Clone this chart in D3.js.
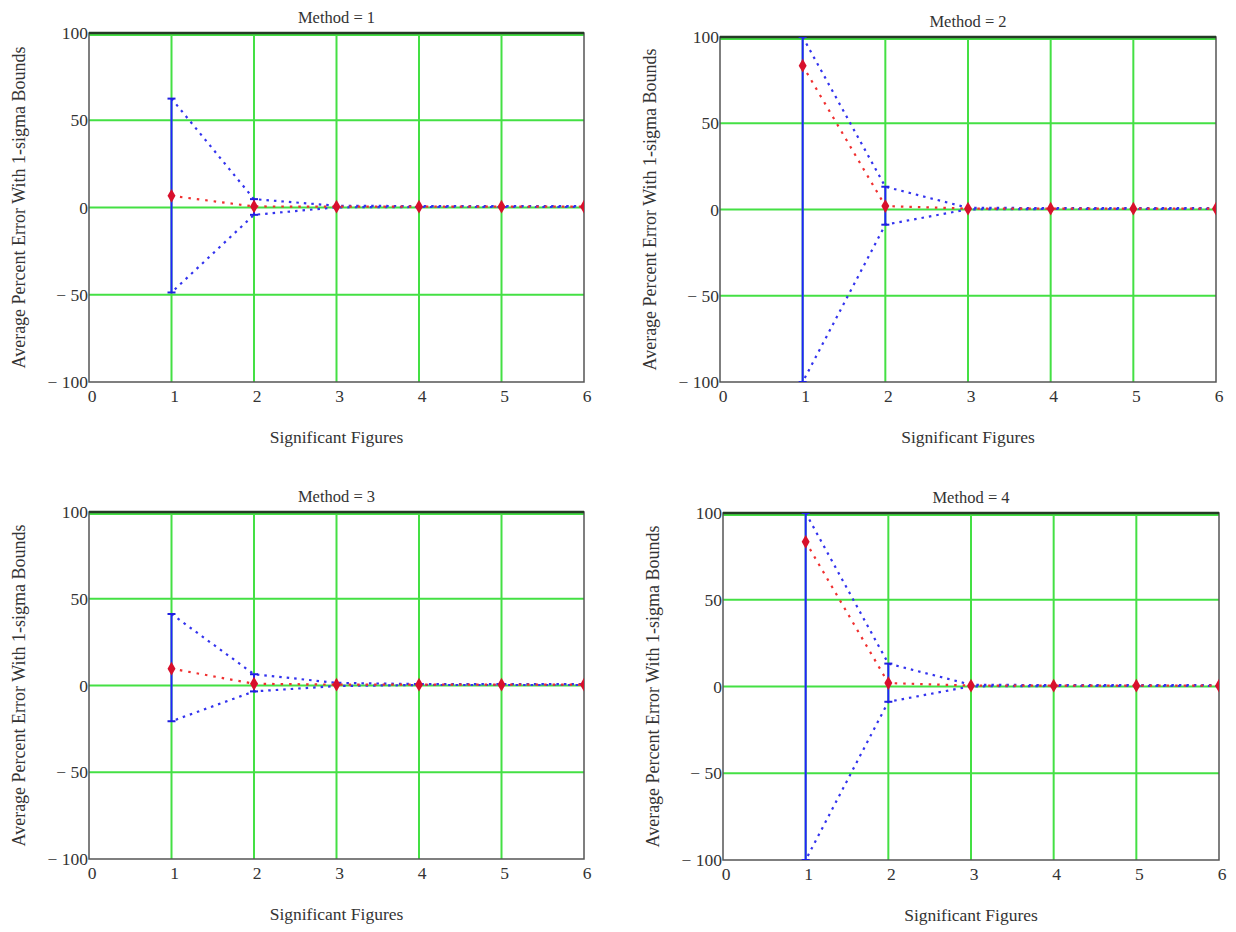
<!DOCTYPE html>
<html>
<head>
<meta charset="utf-8">
<script src="https://cdn.jsdelivr.net/npm/d3@7"></script>
<style>
  body { margin: 0; background: #fff; }
  text { font-family: "Liberation Serif", "DejaVu Serif", serif; fill: #333; }
</style>
</head>
<body>
<div id="chart"></div>
<script>
(function () {

  const sigFigs = [1, 2, 3, 4, 5, 6]
  const xTicks = [0, 1, 2, 3, 4, 5, 6]
  const yTicks = [-100, -50, 0, 50, 100]
  const methods = [1, 2, 3, 4]

  // average percent error and +/- 1 sigma bounds
  const mean1 = [6.7, 0.6, 0.5, 0.5, 0.5, 0.5]
  const upper1 = [62.4, 4.8, 1.0, 0.8, 0.8, 0.8]
  const lower1 = [-48.7, -4.2, 0.1, 0.3, 0.3, 0.3]

  const mean2 = [83.4, 2.0, 0.5, 0.5, 0.5, 0.5]
  const upper2 = [100, 13.2, 1.0, 0.8, 0.8, 0.8]
  const lower2 = [-100, -8.8, 0.1, 0.3, 0.3, 0.3]

  const mean3 = [9.7, 1.0, 0.5, 0.5, 0.5, 0.5]
  const upper3 = [41.2, 6.5, 1.5, 0.8, 0.8, 0.8]
  const lower3 = [-20.6, -3.4, -0.3, 0.3, 0.3, 0.3]

  const mean4 = [83.4, 2.0, 0.5, 0.5, 0.5, 0.5]
  const upper4 = [100, 13.2, 1.0, 0.8, 0.8, 0.8]
  const lower4 = [-100, -8.8, 0.1, 0.3, 0.3, 0.3]

  const means = [mean1, mean2, mean3, mean4]
  const uppers = [upper1, upper2, upper3, upper4]
  const lowers = [lower1, lower2, lower3, lower4]

  // plot rectangles of the four panels
  const boxes = [
    { left: 89, right: 584, top: 33, bottom: 382 },
    { left: 720, right: 1216, top: 37, bottom: 382 },
    { left: 89, right: 584, top: 512, bottom: 859 },
    { left: 723, right: 1219, top: 513, bottom: 860 }
  ]

  const svg = d3.select("#chart").append("svg")
      .attr("width", 1236)
      .attr("height", 932)

  methods.forEach((m, i) => {
    const b = boxes[i]
    const w = b.right - b.left
    const h = b.bottom - b.top

    const x = d3.scaleLinear().domain([0, 6]).range([0, w])
    const y = d3.scaleLinear().domain([-100, 100]).range([h, 0])

    const g = svg.append("g")
        .attr("transform", "translate(" + b.left + "," + b.top + ")")

    g.append("clipPath").attr("id", "clip" + m)
      .append("rect").attr("width", w).attr("height", h)

    // grid
    g.selectAll(".vgrid")
      .data(xTicks.slice(1, 6))
      .join("line")
      .attr("x1", d => x(d)).attr("x2", d => x(d))
      .attr("y1", 0).attr("y2", h)
      .attr("stroke", "#44e044").attr("stroke-width", 2)

    g.selectAll(".hgrid")
      .data(yTicks.slice(1))
      .join("line")
      .attr("x1", 0).attr("x2", w)
      .attr("y1", d => y(d) + (d === 100 ? 2 : 0))
      .attr("y2", d => y(d) + (d === 100 ? 2 : 0))
      .attr("stroke", "#44e044").attr("stroke-width", 2)

    // frame
    g.append("rect")
      .attr("width", w).attr("height", h)
      .attr("fill", "none").attr("stroke", "#555").attr("stroke-width", 1.5)
    g.append("line")
      .attr("x1", 0).attr("x2", w).attr("y1", 0).attr("y2", 0)
      .attr("stroke", "#263a26").attr("stroke-width", 2.5)

    const plot = g.append("g").attr("clip-path", "url(#clip" + m + ")")

    const mean = means[i], upper = uppers[i], lower = lowers[i]

    const line = d3.line()
      .x((d, k) => x(sigFigs[k]))
      .y(d => y(d))

    plot.append("path")
      .attr("d", line(upper))
      .attr("fill", "none").attr("stroke", "#3333ee").attr("stroke-width", 2.2)
      .attr("stroke-dasharray", "2.5,5")
    plot.append("path")
      .attr("d", line(lower))
      .attr("fill", "none").attr("stroke", "#3333ee").attr("stroke-width", 2.2)
      .attr("stroke-dasharray", "2.5,5").attr("stroke-dashoffset", 3)
    plot.append("path")
      .attr("d", line(mean))
      .attr("fill", "none").attr("stroke", "#f03030").attr("stroke-width", 2.2)
      .attr("stroke-dasharray", "2.5,6")

    // error bars at the first two points
    const bars = sigFigs.slice(0, 2)
    plot.selectAll(".ebar")
      .data(bars)
      .join("line")
      .attr("x1", d => x(d)).attr("x2", d => x(d))
      .attr("y1", (d, k) => y(upper[k])).attr("y2", (d, k) => y(lower[k]))
      .attr("stroke", "#2222ff").attr("stroke-width", 2)
    bars.forEach((d, k) => {
      [upper[k], lower[k]].forEach(v => {
        plot.append("line")
          .attr("x1", x(d) - 4).attr("x2", x(d) + 4)
          .attr("y1", y(v)).attr("y2", y(v))
          .attr("stroke", "#2020e0").attr("stroke-width", 2)
      })
    })

    plot.selectAll(".pt")
      .data(mean)
      .join("path")
      .attr("d", d3.symbol(d3.symbolDiamond, 55))
      .attr("transform", (d, k) => "translate(" + x(sigFigs[k]) + "," + y(d) + ")")
      .attr("fill", "#d8102c")

    // tick labels
    g.selectAll(".xt")
      .data(xTicks)
      .join("text")
      .attr("x", d => x(d) + 3)
      .attr("y", h + 20)
      .attr("text-anchor", "middle")
      .attr("font-size", 17.5)
      .text(d => d)

    g.selectAll(".yt")
      .data(yTicks)
      .join("text")
      .attr("x", -1)
      .attr("y", d => y(d) + 6)
      .attr("text-anchor", "end")
      .attr("font-size", 17.5)
      .text(d => d < 0 ? "\u2212 " + Math.abs(d) : d)

    g.append("text")
      .attr("x", w / 2)
      .attr("y", -10)
      .attr("text-anchor", "middle")
      .attr("font-size", 16.5)
      .text("Method = " + m)

    g.append("text")
      .attr("x", w / 2)
      .attr("y", h + 61)
      .attr("text-anchor", "middle")
      .attr("font-size", 17.5)
      .text("Significant Figures")

    g.append("text")
      .attr("transform", "translate(-64," + (h / 2) + ") rotate(-90)")
      .attr("text-anchor", "middle")
      .attr("font-size", 18)
      .text("Average Percent Error With 1-sigma Bounds")
  })

})();
</script>
</body>
</html>
